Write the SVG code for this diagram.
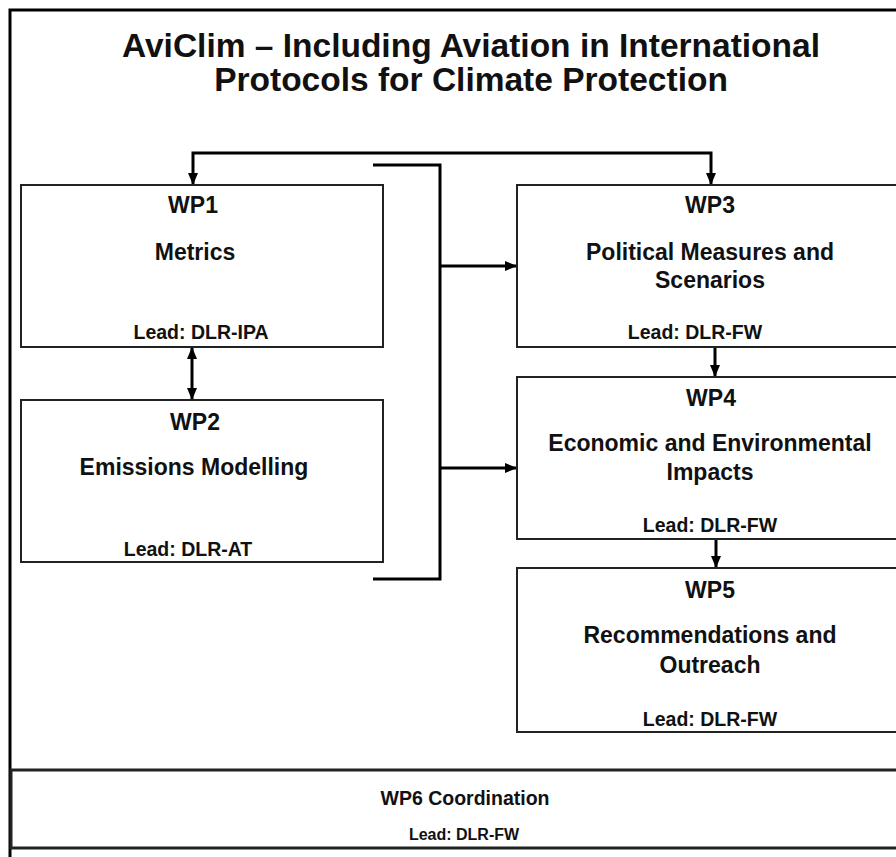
<svg xmlns="http://www.w3.org/2000/svg" width="896" height="857" viewBox="0 0 896 857">
<style>
text{font-family:"Liberation Sans",Arial,sans-serif;font-weight:bold;fill:#111;text-anchor:middle}
.title{font-size:33.5px}
.hd{font-size:23px}
.lead{font-size:19.5px}
.box{fill:#fff;stroke:#222;stroke-width:2}
.conn{fill:none;stroke:#000;stroke-width:3}
</style>
<defs>
<marker id="ah" markerUnits="userSpaceOnUse" markerWidth="12" markerHeight="12" viewBox="0 0 12 12" refX="11" refY="6" orient="auto-start-reverse">
<path d="M0,1 L12,6 L0,11 Z" fill="#000"/>
</marker>
</defs>
<rect x="0" y="0" width="896" height="857" fill="#fff"/>
<path d="M10,857 V10 H896" fill="none" stroke="#000" stroke-width="3"/>
<g id="title">
<text class="title" x="471" y="57">AviClim – Including Aviation in International</text>
<text class="title" x="471" y="91">Protocols for Climate Protection</text>
</g>
<g id="connectors">
<path class="conn" d="M193,184 V153 H711 V184" marker-start="url(#ah)" marker-end="url(#ah)"/>
<path class="conn" d="M373,165 H440 V579 H373"/>
<path class="conn" d="M440,266 H516" marker-end="url(#ah)"/>
<path class="conn" d="M440,468 H516" marker-end="url(#ah)"/>
<path class="conn" d="M192,348 V399" marker-start="url(#ah)" marker-end="url(#ah)"/>
<path class="conn" d="M715,348 V376" marker-end="url(#ah)"/>
<path class="conn" d="M716,540 V567" marker-end="url(#ah)"/>
</g>
<g id="wp1">
<rect class="box" x="21" y="185" width="362" height="162"/>
<text class="hd" x="193" y="213">WP1</text>
<text class="hd" x="195" y="260">Metrics</text>
<text class="lead" x="201" y="339">Lead: DLR-IPA</text>
</g>
<g id="wp2">
<rect class="box" x="21" y="400" width="362" height="162"/>
<text class="hd" x="195" y="430">WP2</text>
<text class="hd" x="194" y="475">Emissions Modelling</text>
<text class="lead" x="188" y="556">Lead: DLR-AT</text>
</g>
<g id="wp3">
<rect class="box" x="517" y="185" width="400" height="162"/>
<text class="hd" x="710" y="213">WP3</text>
<text class="hd" x="710" y="260">Political Measures and</text>
<text class="hd" x="710" y="288">Scenarios</text>
<text class="lead" x="695" y="339">Lead: DLR-FW</text>
</g>
<g id="wp4">
<rect class="box" x="517" y="377" width="400" height="162"/>
<text class="hd" x="711" y="406">WP4</text>
<text class="hd" x="710" y="451">Economic and Environmental</text>
<text class="hd" x="710" y="480">Impacts</text>
<text class="lead" x="710" y="532">Lead: DLR-FW</text>
</g>
<g id="wp5">
<rect class="box" x="517" y="568" width="400" height="164"/>
<text class="hd" x="710" y="598">WP5</text>
<text class="hd" x="710" y="643">Recommendations and</text>
<text class="hd" x="710" y="673">Outreach</text>
<text class="lead" x="710" y="726">Lead: DLR-FW</text>
</g>
<g id="wp6">
<rect x="11" y="770" width="900" height="78" fill="#fff" stroke="#222" stroke-width="3"/>
<text style="font-size:19.5px" x="465" y="805">WP6 Coordination</text>
<text style="font-size:16px" x="464" y="840">Lead: DLR-FW</text>
</g>
</svg>
